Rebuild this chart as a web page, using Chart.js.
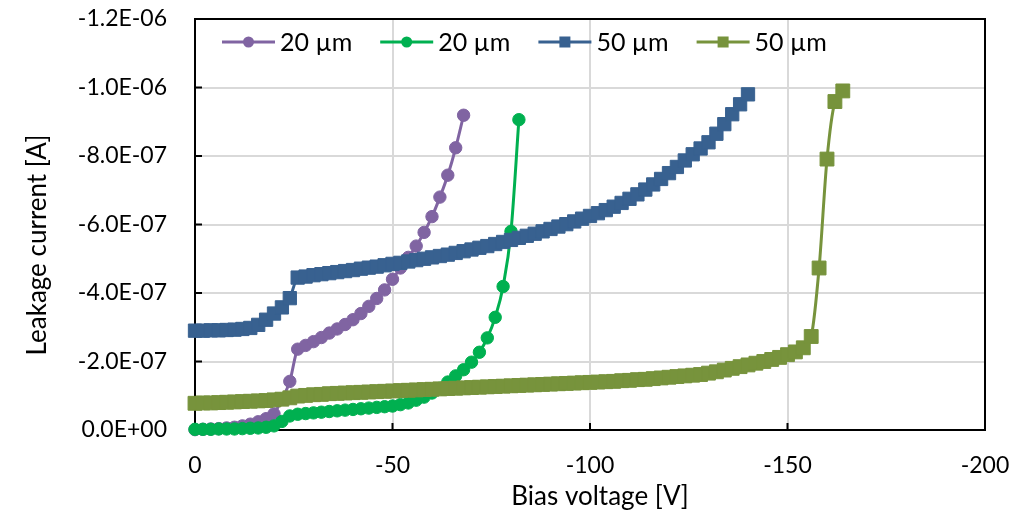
<!DOCTYPE html>
<html>
<head>
<meta charset="utf-8">
<title>Leakage current vs bias voltage</title>
<script src="https://cdn.jsdelivr.net/npm/chart.js@4.4.1/dist/chart.umd.min.js"></script>
<style>
  html, body { margin: 0; padding: 0; background: #fff; }
  #ivChart { display: block; }
</style>
</head>
<body>
<canvas id="ivChart" width="1035" height="515"></canvas>
<script>
// Bias steps shared by all four sweeps [V]; each series uses the first N entries
const biasV = [
  0, -2, -4, -6, -8, -10, -12, -14, -16, -18, -20, -22, -24, -26, -28, -30,
  -32, -34, -36, -38, -40, -42, -44, -46, -48, -50, -52, -54, -56, -58, -60,
  -62, -64, -66, -68, -70, -72, -74, -76, -78, -80, -82, -84, -86, -88, -90,
  -92, -94, -96, -98, -100, -102, -104, -106, -108, -110, -112, -114, -116,
  -118, -120, -122, -124, -126, -128, -130, -132, -134, -136, -138, -140,
  -142, -144, -146, -148, -150, -152, -154, -156, -158, -160, -162, -164
];

// Leakage currents [nA]
const purple20 = [
  -1, -2, -3, -4, -6, -8, -12, -17, -24, -33, -47, -90, -142, -236, -247,
  -258, -270, -283, -295, -308, -322, -340, -361, -384, -409, -440, -473,
  -504, -537, -577, -623, -680, -744, -824, -919
];
const green20 = [
  -2, -2, -2, -3, -3, -3, -4, -5, -6, -8, -12, -25, -41, -46, -48, -50, -52,
  -54, -56, -58, -60, -62, -64, -66, -68, -70, -74, -79, -87, -96, -108,
  -122, -140, -158, -176, -198, -227, -269, -329, -419, -580, -906
];
const blue50 = [
  -290, -290, -291, -291, -292, -293, -295, -298, -307, -322, -340, -358,
  -385, -445, -448, -452, -455, -458, -461, -464, -467, -471, -474, -477,
  -481, -485, -488, -492, -496, -500, -504, -508, -512, -517, -522, -527,
  -532, -537, -543, -549, -555, -561, -567, -573, -580, -587, -594, -601,
  -609, -617, -625, -633, -642, -652, -663, -675, -688, -702, -717, -733,
  -750, -768, -787, -805, -822, -840, -865, -893, -922, -951, -980
];
const olive50 = [
  -78, -79, -79, -80, -81, -82, -83, -84, -85, -86, -88, -90, -94, -99,
  -101, -103, -104, -106, -107, -108, -109, -110, -111, -112, -113, -114,
  -115, -116, -117, -118, -119, -120, -121, -122, -123, -124, -125, -126,
  -127, -128, -129, -130, -131, -132, -133, -134, -135, -136, -137, -138,
  -139, -140, -141, -142, -144, -145, -147, -148, -150, -152, -154, -156,
  -158, -160, -162, -166, -170, -175, -180, -185, -190, -195, -200, -206,
  -212, -220, -228, -240, -273, -473, -791, -959, -990
];

const xTicks = [0, -50, -100, -150, -200];
const yTicks = [0, -2e-7, -4e-7, -6e-7, -8e-7, -1e-6, -1.2e-6];

const FAMILY = "Lato, 'Open Sans', sans-serif";
const TICK_FONT = { family: FAMILY, size: 23 };
const TITLE_SIZE = 26;
const LEGEND_SIZE = 25;
const INK = "#000";

// Excel-like scientific label: -1.2E-06, 0.0E+00
function sciLabel(v) {
  const [m, e] = Number(v).toExponential(1).split("e");
  const n = parseInt(e, 10);
  return m + "E" + (n < 0 ? "-" : "+") + String(Math.abs(n)).padStart(2, "0");
}

function series(label, values, color, style, radius, order) {
  return {
    label,
    data: values.map((v, i) => ({ x: biasV[i], y: v * 1e-9 })),
    showLine: true,
    borderColor: color,
    backgroundColor: color,
    borderWidth: 3,
    pointStyle: style,
    pointRadius: radius,
    pointHoverRadius: radius,
    pointBorderWidth: 1,
    pointBorderColor: color,
    pointBackgroundColor: color,
    cubicInterpolationMode: "monotone",
    clip: false,
    order,
  };
}

// Plot frame with inward tick marks, axis titles and the in-plot legend row
const framePlugin = {
  id: "frame",
  beforeDatasetsDraw(chart) {
    const { ctx, chartArea: a, scales: { x, y } } = chart;
    ctx.save();
    ctx.strokeStyle = INK;
    ctx.lineWidth = 2;
    ctx.strokeRect(a.left, a.top, a.right - a.left, a.bottom - a.top);
    ctx.beginPath();
    x.ticks.forEach((t) => {
      const px = x.getPixelForValue(t.value);
      ctx.moveTo(px, a.bottom);
      ctx.lineTo(px, a.bottom - 7);
    });
    y.ticks.forEach((t) => {
      const py = y.getPixelForValue(t.value);
      ctx.moveTo(a.left, py);
      ctx.lineTo(a.left + 7, py);
    });
    ctx.stroke();

    ctx.fillStyle = INK;
    ctx.font = TITLE_SIZE + "px " + FAMILY;
    ctx.textAlign = "center";
    ctx.textBaseline = "middle";
    ctx.fillText("Bias voltage [V]", 600, 497);
    ctx.translate(38, 245);
    ctx.rotate(-Math.PI / 2);
    ctx.fillText("Leakage current [A]", 0, 0);
    ctx.restore();
  },
  afterDatasetsDraw(chart) {
    const { ctx, chartArea: a } = chart;
    const legendOrder = [...chart.data.datasets].sort((p, q) => q.order - p.order);
    let xPos = a.left + 27;
    const yPos = a.top + 23;
    ctx.save();
    ctx.font = LEGEND_SIZE + "px " + FAMILY;
    ctx.textBaseline = "middle";
    legendOrder.forEach((ds) => {
      ctx.strokeStyle = ds.borderColor;
      ctx.lineWidth = 3;
      ctx.beginPath();
      ctx.moveTo(xPos, yPos);
      ctx.lineTo(xPos + 53, yPos);
      ctx.stroke();
      ctx.fillStyle = ds.borderColor;
      const cx = xPos + 26.5;
      if (ds.pointStyle === "rect") {
        ctx.fillRect(cx - 5.5, yPos - 5.5, 11, 11);
      } else {
        ctx.beginPath();
        ctx.arc(cx, yPos, 5.5, 0, Math.PI * 2);
        ctx.fill();
      }
      ctx.fillStyle = INK;
      ctx.fillText(ds.label, xPos + 58, yPos + 1);
      xPos += 58 + ctx.measureText(ds.label).width + 28;
    });
    ctx.restore();
  },
};

new Chart(document.getElementById("ivChart"), {
  type: "scatter",
  data: {
    datasets: [
      series("20 µm", purple20, "#8064a2", "circle", 6.2, 4),
      series("20 µm", green20, "#00b050", "circle", 6.2, 3),
      series("50 µm", blue50, "#386190", "rect", 9.4, 2),
      series("50 µm", olive50, "#77933c", "rect", 9.8, 1),
    ],
  },
  options: {
    responsive: false,
    animation: false,
    devicePixelRatio: 1,
    layout: { padding: { top: 19, right: 50, left: 0, bottom: 0 } },
    plugins: {
      legend: { display: false },
      tooltip: { enabled: false },
    },
    scales: {
      x: {
        type: "linear",
        min: -200,
        max: 0,
        reverse: true,
        afterBuildTicks: (s) => { s.ticks = xTicks.map((v) => ({ value: v })); },
        afterFit: (s) => { s.height = 85; s.paddingLeft = 0; s.paddingRight = 0; },
        ticks: { padding: 22, font: TICK_FONT, color: INK, callback: (v) => String(v) },
        grid: { color: "#d9d9d9", lineWidth: 2, drawTicks: false },
        border: { display: false },
      },
      y: {
        type: "linear",
        min: -1.2e-6,
        max: 0,
        reverse: true,
        afterBuildTicks: (s) => { s.ticks = yTicks.map((v) => ({ value: v })); },
        afterFit: (s) => { s.width = 195; s.paddingTop = 0; s.paddingBottom = 0; },
        ticks: { padding: 28, font: TICK_FONT, color: INK, callback: (v) => sciLabel(v) },
        grid: { color: "#d9d9d9", lineWidth: 2, drawTicks: false },
        border: { display: false },
      },
    },
  },
  plugins: [framePlugin],
});
</script>
</body>
</html>
